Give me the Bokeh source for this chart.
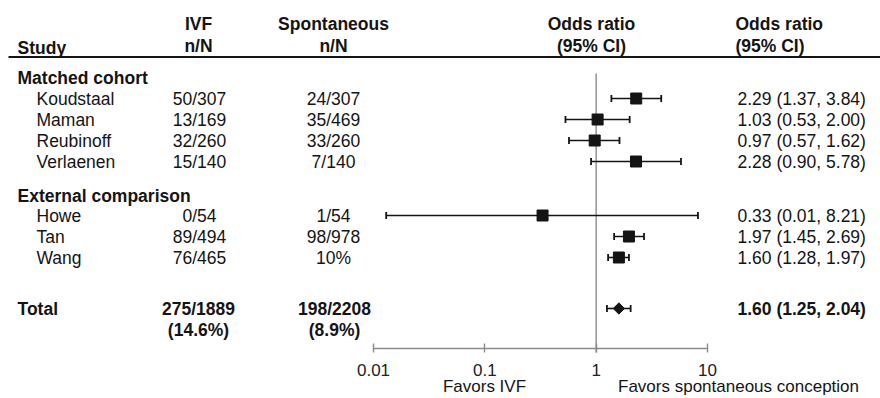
import numpy as np
from bokeh.plotting import figure
from bokeh.models import Range1d, FixedTicker, CustomJSTickFormatter
from bokeh.core.properties import value
from bokeh.embed import file_html
from bokeh.resources import INLINE

# ---------------- data ----------------
groups = ["Matched cohort", "External comparison"]
studies = ["Koudstaal", "Maman", "Reubinoff", "Verlaenen", "Howe", "Tan", "Wang"]
ivf_counts = ["50/307", "13/169", "32/260", "15/140", "0/54", "89/494", "76/465"]
spont_counts = ["24/307", "35/469", "33/260", "7/140", "1/54", "98/978", "10%"]
odds_ratio = [2.29, 1.03, 0.97, 2.28, 0.33, 1.97, 1.60]
ci_low = [1.37, 0.53, 0.57, 0.90, 0.013, 1.45, 1.28]
ci_high = [3.84, 2.00, 1.62, 5.78, 8.21, 2.69, 1.97]
total_ivf = ["275/1889", "(14.6%)"]
total_spont = ["198/2208", "(8.9%)"]
total_or = [1.60]
total_low = [1.25]
total_high = [2.04]
tick_values = [0.01, 0.1, 1, 10]
tick_labels = ["0.01", "0.1", "1", "10"]
header_cols = [["Study"], ["IVF", "n/N"], ["Spontaneous", "n/N"],
               ["Odds ratio", "(95% CI)"], ["Odds ratio", "(95% CI)"]]
axis_notes = ["Favors IVF", "Favors spontaneous conception"]

# ---------------- layout ----------------
W, H = 880, 398
AXIS_Y = 348
PX_DECADE = (707 - 373) / 3.0
PX_001 = 373


def X(px):
    return 10 ** (-2 + (px - PX_001) / PX_DECADE)


FONT = value("Liberation Sans")
FS = "17.5px"
INK = "#141414"

p = figure(width=W, height=H, x_axis_type="log",
           x_range=Range1d(X(0), X(W)), y_range=Range1d(H, 0),
           output_backend="svg", toolbar_location=None,
           min_border_left=0, min_border_right=0, min_border_top=0,
           min_border_bottom=0)
p.outline_line_color = None
p.grid.visible = False
p.yaxis.visible = False
p.background_fill_color = "white"
p.border_fill_color = "white"


def txt(xs_px, ys, texts, align="left", bold=False, size=FS, color=INK):
    p.text(x=[X(v) for v in xs_px], y=ys, text=texts, text_align=align,
           text_baseline="middle", text_font=FONT,
           text_font_style="bold" if bold else "normal",
           text_font_size=size, text_color=color)


# header
txt([17], [47], header_cols[0], bold=True)
txt([198, 198], [23, 45], header_cols[1], align="center", bold=True)
txt([333, 333], [23, 45], header_cols[2], align="center", bold=True)
txt([591, 591], [23, 45], header_cols[3], align="center", bold=True)
txt([735, 735], [23, 45], header_cols[4], bold=True)
p.segment(x0=[X(8)], y0=[56.5], x1=[X(W)], y1=[56.5], line_width=2.2, line_color=INK)

# rows
group_y = [77, 195]
row_y = [98, 119, 140, 161, 215, 236, 257]
total_y = [308, 329]

txt([17, 17], group_y, groups, bold=True)
txt([36] * len(studies), row_y, studies)
txt([199] * len(studies), row_y, ivf_counts, align="center")
txt([333] * len(studies), row_y, spont_counts, align="center")
ci_text = [f"{o:.2f} ({l:.2f}, {h:.2f})" for o, l, h in zip(odds_ratio, ci_low, ci_high)]
txt([737] * len(studies), row_y, ci_text)

txt([17], [total_y[0]], ["Total"], bold=True)
txt([198, 198], total_y, total_ivf, align="center", bold=True)
txt([334, 334], total_y, total_spont, align="center", bold=True)
txt([737], [total_y[0]],
    [f"{total_or[0]:.2f} ({total_low[0]:.2f}, {total_high[0]:.2f})"], bold=True)

# notes under the axis
txt([484, 738], [386, 386], axis_notes, align="center", size="17px")

# reference line at OR = 1
p.segment(x0=[1], y0=[73], x1=[1], y1=[AXIS_Y + 4], line_color="#9a9a9a", line_width=1.6)

# CIs
cap = 3.5
all_y = row_y + [total_y[0]]
all_lo = ci_low + total_low
all_hi = ci_high + total_high
p.segment(x0=all_lo, y0=all_y, x1=all_hi, y1=all_y, line_color=INK, line_width=1.6)
p.segment(x0=all_lo, y0=[y - cap for y in all_y], x1=all_lo, y1=[y + cap for y in all_y],
          line_color=INK, line_width=1.8)
p.segment(x0=all_hi, y0=[y - cap for y in all_y], x1=all_hi, y1=[y + cap for y in all_y],
          line_color=INK, line_width=1.8)
p.scatter(x=odds_ratio, y=row_y, marker="square", size=11, fill_color=INK, line_color=INK)
p.scatter(x=total_or, y=[total_y[0]], marker="square", angle=np.pi / 4, size=8,
          fill_color=INK, line_color=INK)

# axis (drawn inside the frame at y = AXIS_Y)
ax = p.xaxis[0]
ax.fixed_location = AXIS_Y
ax.bounds = (tick_values[0], tick_values[-1])
ax.ticker = FixedTicker(ticks=tick_values, minor_ticks=[])
ax.formatter = CustomJSTickFormatter(
    args=dict(vals=tick_values, labs=tick_labels),
    code="for (let i = 0; i < vals.length; i++) { if (Math.abs(Math.log10(tick) - Math.log10(vals[i])) < 1e-6) return labs[i]; } return '';")
ax.axis_line_color = "#8a8a8a"
ax.axis_line_width = 1.4
ax.major_tick_line_color = "#8a8a8a"
ax.major_tick_line_width = 1.4
ax.major_tick_in = 5
ax.major_tick_out = 4
ax.minor_tick_line_color = None
ax.major_label_standoff = 11
ax.major_label_text_font = "Liberation Sans"
ax.major_label_text_font_size = "17px"
ax.major_label_text_color = "#222222"

open("out.html", "w").write(file_html(p, INLINE))
